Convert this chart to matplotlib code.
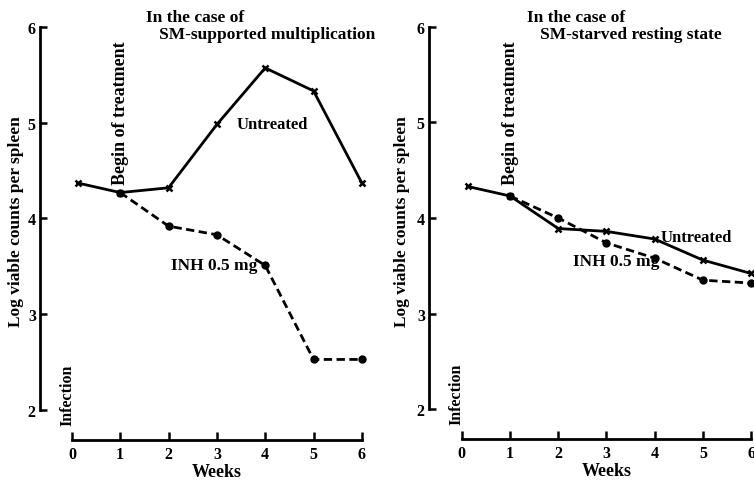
import matplotlib
matplotlib.use("Agg")
import matplotlib.pyplot as plt

# ---- data ----
weeks_untreated = [0.12, 1, 2, 3, 4, 5, 6]
weeks_inh = [1, 2, 3, 4, 5, 6]

left_untreated = [4.37, 4.27, 4.32, 4.98, 5.57, 5.33, 4.37]
left_inh = [4.27, 3.92, 3.83, 3.51, 2.53, 2.53]

right_untreated = [4.33, 4.23, 3.89, 3.86, 3.78, 3.56, 3.42]
right_inh = [4.23, 4.00, 3.74, 3.58, 3.35, 3.32]

x_ticks = [0, 1, 2, 3, 4, 5, 6]
y_ticks = [2, 3, 4, 5, 6]

titles = ["In the case of\n   SM-supported multiplication",
          "In the case of\n   SM-starved resting state"]

plt.rcParams['font.family'] = ['Liberation Serif', 'DejaVu Serif']
plt.rcParams['font.weight'] = 'bold'

W, H = 754, 481
fig = plt.figure(figsize=(W / 100, H / 100), dpi=100)


def px_axes(x0, y0, x1, y1):
    return fig.add_axes([x0 / W, 1 - y1 / H, (x1 - x0) / W, (y1 - y0) / H])


def panel(ax, untreated, inh, title, xl, untreated_pos, inh_pos, title_pos,
          ylab_x, xlab_x):
    ax.set_xlim(xl)
    ax.set_ylim(1.69, 6.08)
    for s in ['top', 'right']:
        ax.spines[s].set_visible(False)
    ax.spines['left'].set_bounds(2, 6)
    ax.spines['bottom'].set_bounds(0, 6)
    ax.spines['left'].set_linewidth(2)
    ax.spines['bottom'].set_linewidth(2)
    ax.set_xticks(x_ticks)
    ax.set_yticks(y_ticks)
    ax.tick_params(axis='x', direction='in', length=6, width=1.8, labelsize=11.5, pad=4)
    ax.tick_params(axis='y', direction='in', length=5, width=1.8, labelsize=11.5, pad=3)
    for lab in ax.get_xticklabels() + ax.get_yticklabels():
        lab.set_fontweight('bold')
    ax.plot(weeks_untreated, untreated, color='black', lw=2, marker='x',
            ms=4.5, mew=1.8, clip_on=False)
    ax.plot(weeks_inh, inh, color='black', lw=2, ls=(0, (3, 1.6)), marker='o',
            ms=5, clip_on=False)
    ax.set_xlabel("Weeks", fontsize=13, fontweight='bold')
    ax.xaxis.set_label_coords(xlab_x, -0.055)
    ax.set_ylabel("Log viable counts per spleen", fontsize=12.5, fontweight='bold')
    ax.yaxis.set_label_coords(ylab_x, 0.52)
    ax.text(1, 4.36, "Begin of treatment", rotation=90, ha='center', va='bottom',
            fontsize=13, fontweight='bold')
    ax.text(-0.1, 1.85, "Infection", rotation=90, ha='center', va='bottom',
            fontsize=11.5, fontweight='bold')
    ax.text(untreated_pos[0], untreated_pos[1], "Untreated", ha='left', va='center',
            fontsize=12, fontweight='bold')
    ax.text(inh_pos[0], inh_pos[1], "INH 0.5 mg", ha='left', va='center',
            fontsize=12.5, fontweight='bold')
    ax.text(title_pos[0], title_pos[1], title, ha='left', va='top',
            fontsize=12.5, fontweight='bold', linespacing=1.1, transform=fig.transFigure)


axL = px_axes(40, 20, 372, 441)
panel(axL, left_untreated, left_inh, titles[0], (-0.66, 6.21),
      (3.4, 4.98), (2.05, 3.52), (146 / W, 1 - 10 / H), -0.048, 0.533)
axR = px_axes(429, 20, 754, 440)
panel(axR, right_untreated, right_inh, titles[1], (-0.68, 6.06),
      (4.12, 3.8), (2.3, 3.55), (527 / W, 1 - 10 / H), -0.058, 0.548)

fig.savefig("out.png", dpi=100)
